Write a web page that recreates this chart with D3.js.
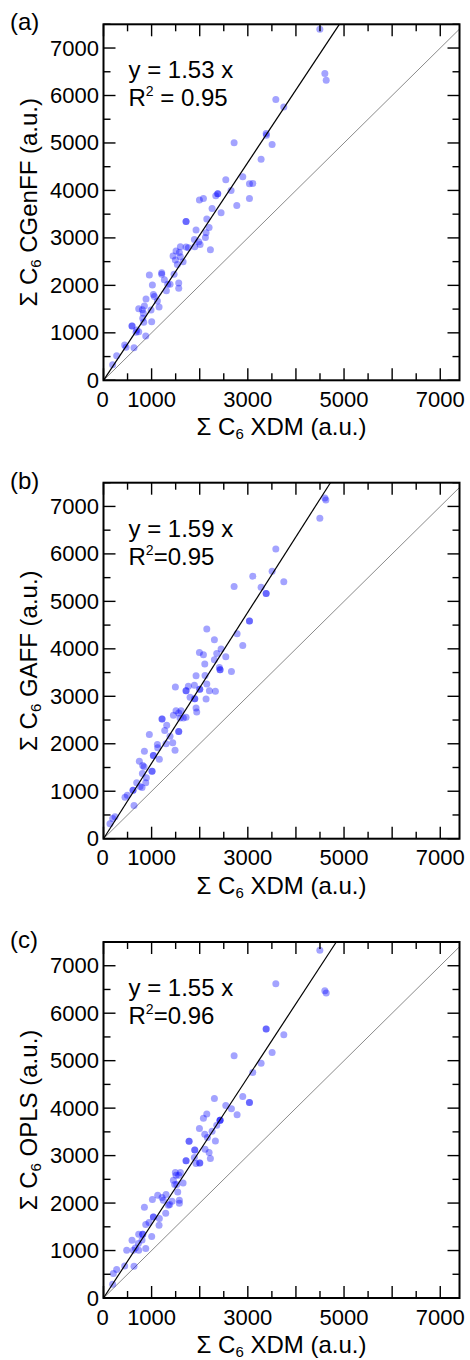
<!DOCTYPE html>
<html>
<head>
<meta charset="utf-8">
<script src="https://cdn.jsdelivr.net/npm/d3@7"></script>
<style>
  body { margin: 0; background: #fff; }
  text { font-family: "Liberation Sans", Arial, sans-serif; fill: #000; }
</style>
</head>
<body>
<svg id="chart"></svg>
<script>
// XDM sum vs force-field sum, one [x, y] pair per molecule
const cgenffPts = [[4497,7396],[4601,6463],[4629,6322],[3582,5916],[3748,5760],[3381,5200],[3387,5164],[3505,4968],[2715,5002],[3276,4659],[2895,4287],[2542,4223],[3034,4139],[3103,4147],[2652,4000],[2375,3928],[2375,3928],[2334,3886],[2077,3831],[1994,3796],[3034,3831],[2771,3684],[2257,3621],[2444,3529],[1716,3347],[1716,3347],[2147,3396],[2195,3221],[1924,3164],[2132,3107],[2118,3011],[1889,2968],[1980,2918],[2008,2863],[1897,2813],[1764,2792],[1716,2806],[1598,2813],[2222,2750],[1508,2722],[1577,2695],[1446,2617],[1598,2602],[1494,2533],[1654,2497],[1535,2442],[953,2217],[1210,2265],[1210,2232],[1467,2232],[1265,2118],[1335,2021],[1383,2021],[1564,2048],[1564,1937],[1016,2006],[1307,1886],[1037,1810],[1058,1768],[884,1712],[1120,1669],[732,1507],[808,1486],[850,1564],[988,1480],[1155,1543],[828,1410],[815,1305],[836,1221],[1002,1234],[593,1143],[593,1143],[690,1059],[732,1023],[676,1010],[878,933],[440,743],[468,695],[634,686],[274,518],[190,328]]

const gaffPts = [[4601,7178],[4622,7136],[4497,6751],[3582,6105],[3505,5636],[3103,5531],[2715,5312],[3276,5300],[3748,5411],[3381,5165],[3381,5165],[3034,4585],[3034,4585],[2777,4318],[2895,4072],[2147,4416],[2305,4191],[2444,3996],[1994,3924],[2077,3876],[2354,3903],[2542,3834],[2305,3771],[2105,3680],[2409,3609],[2423,3560],[2423,3560],[2659,3525],[1924,3434],[2111,3440],[1494,3197],[1764,3211],[1889,3231],[1716,3119],[1716,3119],[2001,3146],[2001,3146],[2147,3260],[2201,3119],[2326,3104],[1800,2978],[1897,2951],[1897,2951],[2132,2944],[1924,2755],[1938,2671],[1508,2698],[1564,2650],[1612,2698],[1453,2600],[1660,2545],[1716,2557],[1591,2545],[1217,2524],[1217,2524],[1314,2389],[1273,2278],[1564,2257],[1564,2257],[953,2194],[1383,2158],[1120,1983],[1127,1914],[1439,2019],[1300,1998],[1487,1863],[850,1842],[1037,1752],[1037,1752],[1161,1674],[745,1632],[815,1541],[843,1514],[1009,1422],[1009,1422],[808,1373],[891,1283],[690,1178],[878,1178],[759,1100],[614,1022],[614,1022],[801,1079],[447,875],[495,917],[634,700],[239,463],[191,427],[135,315]]

const oplsPts = [[4497,7325],[4601,6473],[4629,6424],[3582,6620],[3748,5545],[3381,5665],[3381,5665],[3505,5174],[2715,5102],[3276,4948],[3103,4752],[2895,4246],[3034,4120],[3034,4120],[2305,4204],[2542,4056],[2659,3985],[2147,3879],[2777,3858],[2077,3789],[2423,3747],[2423,3747],[2423,3747],[1994,3571],[2354,3641],[2105,3451],[2257,3515],[2326,3310],[1779,3302],[1779,3302],[2160,3382],[1897,3120],[1897,3120],[2111,3135],[2195,3066],[1716,2889],[1716,2889],[1889,2960],[2001,2846],[2001,2846],[1924,2834],[2222,2939],[1598,2644],[1494,2644],[1508,2587],[1564,2587],[1453,2481],[1654,2425],[1522,2391],[1480,2391],[1543,2235],[1300,2180],[1127,2165],[1217,2117],[1244,2060],[1577,2060],[1577,1997],[1016,2075],[1376,1969],[1349,1955],[1425,2039],[850,1912],[1293,1786],[1037,1708],[1037,1708],[1161,1674],[946,1590],[878,1548],[1155,1533],[732,1343],[815,1343],[815,1343],[1002,1295],[801,1224],[593,1218],[724,1148],[482,1007],[620,1007],[732,1007],[878,1042],[662,1054],[440,675],[634,668],[274,599],[204,514],[190,289]]

const panelTags = ["(a)", "(b)", "(c)"]
const forceFields = ["CGenFF", "GAFF", "OPLS"]
const slopes = [1.53, 1.59, 1.55]
const r2Text = [" = 0.95", "=0.95", "=0.96"]
const xTickLabels = [0, 1000, 3000, 5000, 7000]
const yTickLabels = [0, 1000, 2000, 3000, 4000, 5000, 6000, 7000]

const allPts = [cgenffPts, gaffPts, oplsPts]

const width = 470
const height = 1360
const left = 103.5
const plotW = 356
const plotH = 356
const tops = [24.3, 482.7, 942]

const svg = d3.select("#chart")
    .attr("width", width)
    .attr("height", height)

const xScale = d3.scaleLinear().domain([0, 7400]).range([0, plotW])
const yScale = d3.scaleLinear().domain([0, 7500]).range([plotH, 0])

function drawPanel(i) {
    const g = svg.append("g")
        .attr("transform", "translate(" + left + "," + tops[i] + ")")

    // y = x reference
    g.append("line")
        .attr("x1", xScale(0)).attr("y1", yScale(0))
        .attr("x2", xScale(7400)).attr("y2", yScale(7400))
        .style("stroke", "#8a8a8a")
        .style("stroke-width", 1)

    g.selectAll(".pt")
        .data(allPts[i])
        .enter()
        .append("circle")
        .attr("cx", (d) => xScale(d[0]))
        .attr("cy", (d) => yScale(d[1]))
        .attr("r", 3.5)
        .style("fill", "#0000ff")
        .style("fill-opacity", 0.36)

    // fitted line through origin
    const xEnd = 7500 / slopes[i]
    g.append("line")
        .attr("x1", xScale(0)).attr("y1", yScale(0))
        .attr("x2", xScale(xEnd)).attr("y2", yScale(7500))
        .style("stroke", "#000")
        .style("stroke-width", 1.2)

    const xTicks = d3.range(0, 7400, 500)
    const yTicks = d3.range(0, 7501, 500)

    g.selectAll(".xb").data(xTicks).enter().append("line")
        .attr("x1", (d) => xScale(d)).attr("x2", (d) => xScale(d))
        .attr("y1", plotH).attr("y2", (d) => plotH - (d % 1000 === 0 ? 12 : 7))
        .style("stroke", "#000").style("stroke-width", 1.4)
    g.selectAll(".xt").data(xTicks).enter().append("line")
        .attr("x1", (d) => xScale(d)).attr("x2", (d) => xScale(d))
        .attr("y1", 0).attr("y2", (d) => (d % 1000 === 0 ? 12 : 7))
        .style("stroke", "#000").style("stroke-width", 1.4)
    g.selectAll(".yl").data(yTicks).enter().append("line")
        .attr("y1", (d) => yScale(d)).attr("y2", (d) => yScale(d))
        .attr("x1", 0).attr("x2", (d) => (d % 1000 === 0 ? 12 : 7))
        .style("stroke", "#000").style("stroke-width", 1.4)
    g.selectAll(".yr").data(yTicks).enter().append("line")
        .attr("y1", (d) => yScale(d)).attr("y2", (d) => yScale(d))
        .attr("x1", plotW).attr("x2", (d) => plotW - (d % 1000 === 0 ? 12 : 7))
        .style("stroke", "#000").style("stroke-width", 1.4)

    g.append("rect")
        .attr("width", plotW).attr("height", plotH)
        .style("fill", "none")
        .style("stroke", "#000")
        .style("stroke-width", 2)

    g.selectAll(".xlab").data(xTickLabels).enter().append("text")
        .attr("x", (d) => xScale(d) - (d === 0 ? 1 : 0))
        .attr("y", plotH + 26.5)
        .attr("text-anchor", "middle")
        .style("font-size", "22px")
        .text((d) => d)
    g.selectAll(".ylab").data(yTickLabels).enter().append("text")
        .attr("x", -4.5)
        .attr("y", (d) => yScale(d) + 7.5)
        .attr("text-anchor", "end")
        .style("font-size", "22px")
        .text((d) => d)

    // axis titles
    const xt = g.append("text")
        .attr("x", plotW / 2)
        .attr("y", plotH + 55)
        .attr("text-anchor", "middle")
        .style("font-size", "24px")
    xt.append("tspan").text("Σ C")
    xt.append("tspan").style("font-size", "15px").attr("dy", 4).text("6")
    xt.append("tspan").attr("dy", -4).text(" XDM (a.u.)")

    const yt = g.append("text")
        .attr("transform", "translate(-67," + plotH / 2 + ") rotate(-90)")
        .attr("text-anchor", "middle")
        .style("font-size", "24px")
    yt.append("tspan").text("Σ C")
    yt.append("tspan").style("font-size", "15px").attr("dy", 4).text("6")
    yt.append("tspan").attr("dy", -4).text(" " + forceFields[i] + " (a.u.)")

    svg.append("text")
        .attr("x", 10)
        .attr("y", tops[i] + 6)
        .style("font-size", "24px")
        .text(panelTags[i])

    g.append("text")
        .attr("x", 25)
        .attr("y", 54)
        .style("font-size", "24px")
        .text("y = " + slopes[i] + " x")
    const r2 = g.append("text")
        .attr("x", 25)
        .attr("y", 82)
        .style("font-size", "24px")
    r2.append("tspan").text("R")
    r2.append("tspan").style("font-size", "14px").attr("dy", -10).text("2")
    r2.append("tspan").attr("dy", 10).text(r2Text[i])
}

for (let i = 0; i < 3; i++) {
    drawPanel(i)
}
</script>
</body>
</html>
